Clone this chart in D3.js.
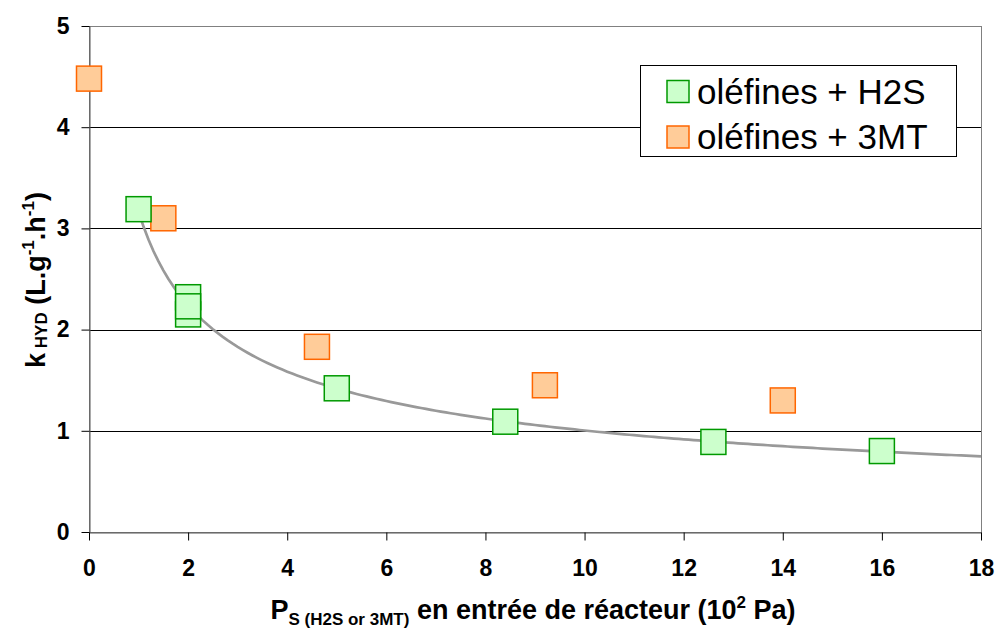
<!DOCTYPE html>
<html>
<head>
<meta charset="utf-8">
<script src="https://cdn.jsdelivr.net/npm/d3@7"></script>
<style>
  body { margin: 0; background: #fff; }
  text { font-family: "Liberation Sans", Arial, sans-serif; }
</style>
</head>
<body>
<script>
const WIDTH = 997
const HEIGHT = 633
const MARGIN = {top: 26, right: 16, bottom: 101, left: 89}

// green series: olefines + H2S
const h2sX = [1, 2, 2, 2, 5, 8.4, 12.6, 16]
const h2sY = [3.19, 2.32, 2.15, 2.23, 1.42, 1.09, 0.89, 0.80]
// orange series: olefines + 3MT
const mtX = [0, 1.5, 4.6, 9.2, 14]
const mtY = [4.48, 3.10, 1.83, 1.45, 1.30]

const xTicks = [0, 2, 4, 6, 8, 10, 12, 14, 16, 18]
const yTicks = [0, 1, 2, 3, 4, 5]
const seriesNames = ["oléfines + H2S", "oléfines + 3MT"]

var createChart = function(){
    var svg = d3.select("body").append("svg")
        .attr("width", WIDTH)
        .attr("height", HEIGHT);

    var w = WIDTH - MARGIN.left - MARGIN.right;
    var h = HEIGHT - MARGIN.top - MARGIN.bottom;

    var x = d3.scaleLinear().domain([0, 18]).range([MARGIN.left, MARGIN.left + w]);
    var y = d3.scaleLinear().domain([0, 5]).range([MARGIN.top + h, MARGIN.top]);

    // gridlines
    svg.append("g").selectAll("line")
        .data(yTicks.filter(d => d > 0 && d < 5))
        .enter().append("line")
        .attr("x1", x(0)).attr("x2", x(18))
        .attr("y1", d => Math.round(y(d)) + 0.5)
        .attr("y2", d => Math.round(y(d)) + 0.5)
        .attr("stroke", "#000").attr("stroke-width", 1);

    // plot border
    svg.append("rect")
        .attr("x", x(0) + 0.5).attr("y", Math.round(y(5)) + 0.5)
        .attr("width", x(18) - x(0)).attr("height", y(0) - y(5))
        .attr("fill", "none").attr("stroke", "#808080").attr("stroke-width", 1);

    // axes
    var xAxis = svg.append("g")
        .attr("transform", "translate(0," + (Math.round(y(0)) + 0.5) + ")")
        .call(d3.axisBottom(x).tickValues(xTicks).tickFormat(d3.format("d"))
            .tickSize(8).tickSizeOuter(0).tickPadding(19));
    var yAxis = svg.append("g")
        .attr("transform", "translate(" + (Math.round(x(0)) + 0.5) + ",0)")
        .call(d3.axisLeft(y).tickValues(yTicks).tickFormat(d3.format("d"))
            .tickSize(8).tickSizeOuter(0).tickPadding(12));

    [xAxis, yAxis].forEach(function(a){
        a.select(".domain").attr("stroke", "#555");
        a.selectAll(".tick line").attr("stroke", "#000");
        a.selectAll(".tick text")
            .attr("fill", "#000")
            .style("font-size", "23px")
            .style("font-weight", "bold")
            .style("font-family", "'Liberation Sans', Arial, sans-serif");
    });

    // power trendline fitted to green series
    var lx = h2sX.map(Math.log), ly = h2sY.map(Math.log);
    var mx = d3.mean(lx), my = d3.mean(ly);
    var b = d3.sum(lx.map((v, i) => (v - mx) * (ly[i] - my))) / d3.sum(lx.map(v => (v - mx) * (v - mx)));
    var a = Math.exp(my - b * mx);
    var trend = d3.range(1, 18.001, 0.1).map(t => [t, a * Math.pow(t, b)]);
    svg.append("path")
        .datum(trend)
        .attr("d", d3.line().x(d => x(d[0])).y(d => y(d[1])))
        .attr("fill", "none").attr("stroke", "#999").attr("stroke-width", 2.7);

    var SIZE = 25;
    drawSquares(svg, x, y, mtX, mtY, SIZE, "#ffcc99", "#ff6600");
    drawSquares(svg, x, y, h2sX, h2sY, SIZE, "#ccffcc", "#009900");

    // legend
    var legend = svg.append("g");
    legend.append("rect")
        .attr("x", 640.5).attr("y", 65.5).attr("width", 316).attr("height", 91)
        .attr("fill", "#fff").attr("stroke", "#000").attr("stroke-width", 1);
    var fills = ["#ccffcc", "#ffcc99"], strokes = ["#009900", "#ff6600"];
    seriesNames.forEach(function(name, i){
        var cy = 91.5 + i * 45.5;
        legend.append("rect")
            .attr("x", 667).attr("y", cy - 11).attr("width", 22).attr("height", 22)
            .attr("fill", fills[i]).attr("stroke", strokes[i]).attr("stroke-width", 1.5);
        legend.append("text")
            .attr("x", 697).attr("y", cy + 12)
            .style("font-size", "35px")
            .text(name);
    });

    // x axis title
    var xt = svg.append("text")
        .attr("x", 533).attr("y", 619)
        .attr("text-anchor", "middle")
        .style("font-weight", "bold").style("font-size", "27px");
    xt.append("tspan").text("P");
    xt.append("tspan").attr("dy", 6).style("font-size", "17px").text("S (H2S or 3MT)");
    xt.append("tspan").attr("dy", -6).text(" en entrée de réacteur (10");
    xt.append("tspan").attr("dy", -11).style("font-size", "17px").text("2");
    xt.append("tspan").attr("dy", 11).text(" Pa)");

    // y axis title
    var yt = svg.append("text")
        .attr("transform", "translate(45,280) rotate(-90)")
        .attr("text-anchor", "middle")
        .style("font-weight", "bold").style("font-size", "27px");
    yt.append("tspan").text("k");
    yt.append("tspan").attr("dy", 2).style("font-size", "17px").text(" HYD");
    yt.append("tspan").attr("dy", -2).text(" (L.g");
    yt.append("tspan").attr("dy", -11).style("font-size", "17px").text("-1");
    yt.append("tspan").attr("dy", 11).text(".h");
    yt.append("tspan").attr("dy", -11).style("font-size", "17px").text("-1");
    yt.append("tspan").attr("dy", 11).text(")");
}

var drawSquares = function(svg, x, y, xs, ys, size, fill, stroke){
    svg.append("g").selectAll("rect")
        .data(xs.map((v, i) => [v, ys[i]]))
        .enter().append("rect")
        .attr("x", d => x(d[0]) - size / 2)
        .attr("y", d => y(d[1]) - size / 2)
        .attr("width", size).attr("height", size)
        .attr("fill", fill).attr("stroke", stroke).attr("stroke-width", 1.5);
}

createChart();
</script>
</body>
</html>
